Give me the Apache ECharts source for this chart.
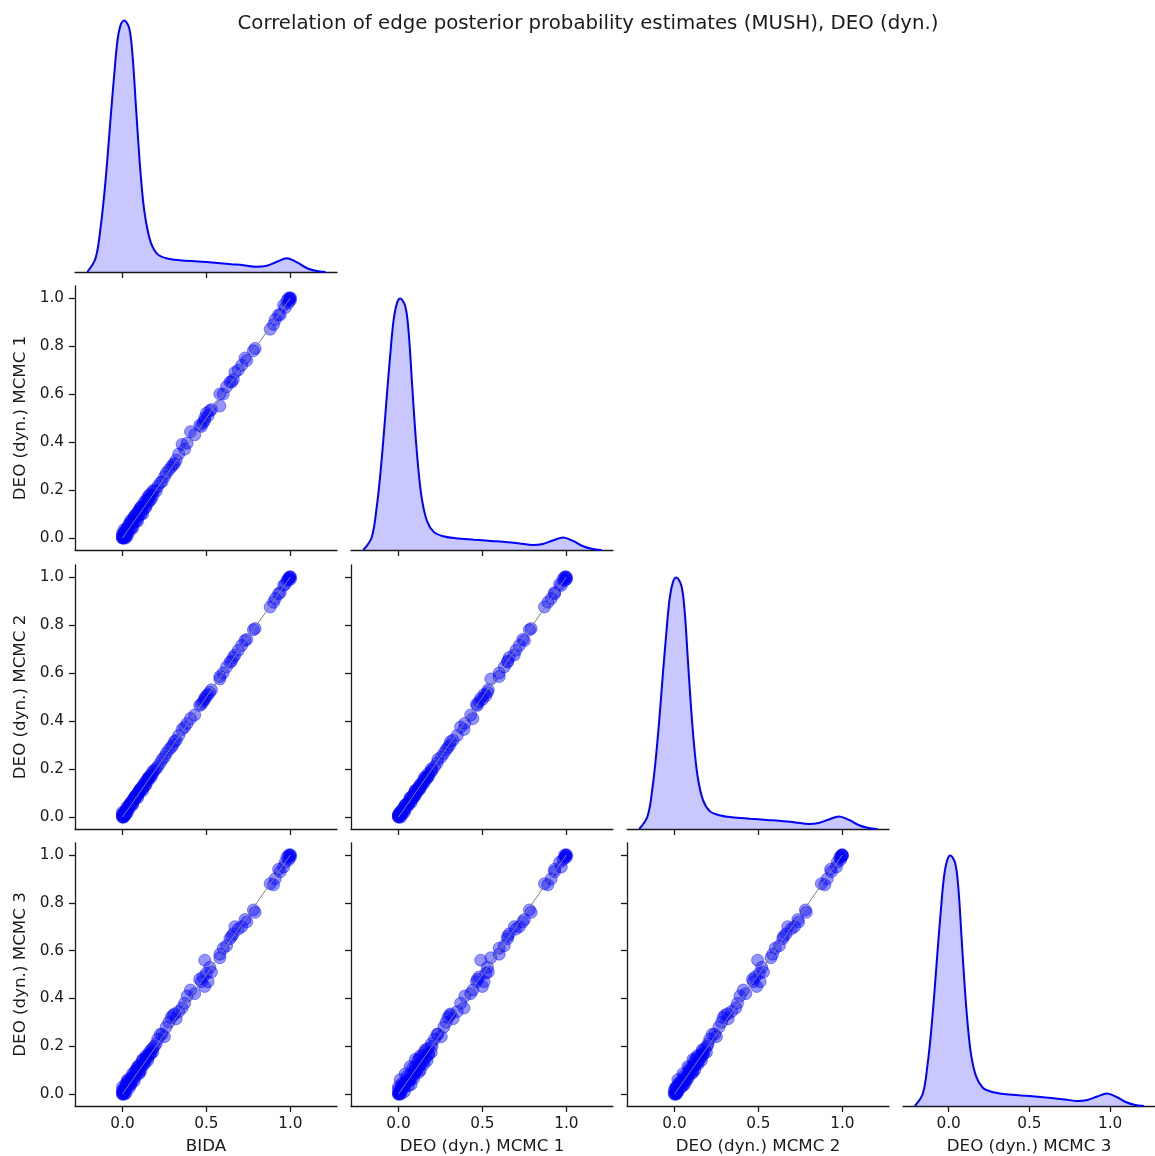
<!DOCTYPE html>
<html><head><meta charset="utf-8">
<script src="https://cdn.jsdelivr.net/npm/echarts@6/dist/echarts.min.js"></script>
<style>html,body{margin:0;padding:0;background:#fff}#c{width:1155px;height:1156px}</style>
</head><body><div id="c"></div>
<script>
// ---------------- data ----------------
const titleText = 'Correlation of edge posterior probability estimates (MUSH), DEO (dyn.)';
const variables = ['BIDA', 'DEO (dyn.) MCMC 1', 'DEO (dyn.) MCMC 2', 'DEO (dyn.) MCMC 3'];

const bida  = [0,0,0,0.005,0.01,0,0.015,0.02,0.02,0.025,0.03,0.035,0.04,0.045,0.05,0.055,0.06,0.065,0.07,0.075,0.08,0.085,0.09,0.095,0.1,0.105,0.11,0.115,0.12,0.13,0.135,0.14,0.15,0.155,0.16,0.17,0.18,0.19,0.2,0.025,0.01,
  0.21,0.225,0.236,0.25,0.26,0.276,0.29,0.3,0.31,0.32,0.335,0.355,0.37,0.385,0.405,0.43,0.46,0.47,0.48,0.49,0.49,0.5,0.51,0.52,0.53,0.58,0.58,0.6,0.62,0.64,0.65,0.66,0.67,0.69,0.71,0.73,0.74,0.79,0.78,0.88,0.9,0.91,0.93,0.94,0.96,0.97,0.98,0.99,1,1,0.99,1,0.995,
  0,0.01,0.03,0.04,0.05,0.06,0.07,0.08,0.09,0.1,0.11,0.12,0.13,0.14,0.15,0.16,0.17,0.18,0.02,0.005];
const mcmc1 = [0,0.005,0,0,0.02,0.01,0.005,0.03,0.01,0.035,0.02,0.05,0.03,0.06,0.04,0.07,0.05,0.08,0.065,0.09,0.07,0.1,0.085,0.11,0.095,0.12,0.1,0.13,0.115,0.14,0.125,0.155,0.145,0.165,0.155,0.18,0.175,0.2,0.195,0.04,0,
  0.215,0.23,0.235,0.255,0.27,0.283,0.295,0.305,0.31,0.325,0.35,0.39,0.37,0.395,0.443,0.43,0.47,0.465,0.48,0.5,0.49,0.52,0.51,0.53,0.535,0.55,0.6,0.6,0.63,0.65,0.65,0.66,0.69,0.7,0.72,0.75,0.74,0.79,0.78,0.87,0.89,0.91,0.93,0.93,0.97,0.96,0.99,0.98,1,0.99,1,1,0.995,
  0.02,0.035,0.01,0.06,0.075,0.04,0.09,0.1,0.07,0.12,0.13,0.1,0.15,0.13,0.17,0.18,0.16,0.195,0,0.015];
const mcmc2 = [0,0,0.01,0.005,0.015,0.02,0.01,0.025,0.015,0.04,0.03,0.045,0.035,0.055,0.05,0.065,0.055,0.075,0.07,0.085,0.08,0.095,0.09,0.105,0.1,0.115,0.11,0.125,0.12,0.135,0.13,0.15,0.15,0.16,0.165,0.175,0.18,0.195,0.2,0.03,0,
  0.21,0.225,0.24,0.25,0.265,0.28,0.29,0.3,0.315,0.32,0.34,0.365,0.375,0.39,0.41,0.425,0.465,0.47,0.48,0.49,0.495,0.505,0.51,0.52,0.53,0.575,0.585,0.6,0.625,0.645,0.65,0.665,0.675,0.695,0.715,0.735,0.74,0.785,0.78,0.875,0.895,0.91,0.93,0.935,0.965,0.97,0.985,0.99,1,1,0.995,0.99,1,
  0.01,0.02,0.02,0.05,0.06,0.05,0.08,0.09,0.08,0.11,0.12,0.11,0.14,0.135,0.16,0.17,0.165,0.19,0.01,0];
const mcmc3 = [0,0.01,0,0.005,0.025,0.015,0,0.04,0.005,0.03,0.045,0.05,0.025,0.065,0.045,0.06,0.075,0.07,0.055,0.095,0.08,0.09,0.11,0.1,0.085,0.125,0.115,0.12,0.14,0.13,0.15,0.145,0.16,0.155,0.175,0.17,0.19,0.2,0.21,0.05,0.02,
  0.23,0.25,0.25,0.24,0.28,0.3,0.32,0.33,0.335,0.315,0.345,0.36,0.38,0.41,0.435,0.42,0.48,0.47,0.49,0.45,0.56,0.505,0.47,0.53,0.51,0.57,0.585,0.61,0.62,0.65,0.66,0.67,0.70,0.69,0.70,0.73,0.72,0.76,0.77,0.88,0.875,0.9,0.94,0.93,0.95,0.97,0.99,0.98,1,1,1,0.99,0.995,
  0.03,0.01,0.06,0.035,0.04,0.085,0.065,0.1,0.115,0.09,0.1,0.145,0.125,0.16,0.14,0.165,0.185,0.175,0.03,0];

// kernel density curves (relative height)
const kdeX    = [-0.21,-0.16,-0.13,-0.11,-0.09,-0.07,-0.05,-0.03,-0.01,0.01,0.04,0.06,0.08,0.10,0.12,0.14,0.17,0.21,0.26,0.34,0.45,0.55,0.65,0.72,0.8,0.86,0.92,0.98,1.04,1.1,1.15,1.21];
const kdeBida = [0,0.056,0.18,0.30,0.45,0.62,0.78,0.92,0.985,1.0,0.97,0.86,0.66,0.46,0.30,0.20,0.115,0.07,0.055,0.047,0.042,0.037,0.031,0.027,0.021,0.025,0.041,0.055,0.038,0.015,0.005,0];
const kdeM1   = [0,0.05,0.17,0.29,0.44,0.61,0.77,0.91,0.98,1.0,0.97,0.87,0.67,0.47,0.31,0.20,0.115,0.072,0.056,0.047,0.041,0.036,0.031,0.026,0.02,0.024,0.038,0.05,0.036,0.015,0.005,0];
const kdeM2   = [0,0.052,0.17,0.29,0.44,0.61,0.77,0.91,0.98,1.0,0.97,0.87,0.67,0.47,0.31,0.20,0.115,0.071,0.056,0.047,0.041,0.036,0.031,0.026,0.02,0.024,0.038,0.05,0.036,0.015,0.005,0];
const kdeM3   = [0,0.05,0.17,0.29,0.44,0.61,0.77,0.91,0.98,1.0,0.97,0.87,0.67,0.47,0.31,0.20,0.118,0.074,0.058,0.048,0.042,0.037,0.031,0.026,0.02,0.024,0.038,0.05,0.036,0.015,0.005,0];

const xTicks = [0, 0.5, 1.0];
const yTicks = [0, 0.2, 0.4, 0.6, 0.8, 1.0];
const refLine = [[0, 0], [1, 1]];

// ---------------- layout ----------------
const values = [bida, mcmc1, mcmc2, mcmc3];
const kdes = [kdeBida, kdeM1, kdeM2, kdeM3];
const X_MIN = -0.283, X_MAX = 1.278, Y_MIN = -0.05, Y_MAX = 1.05;
const colLeft = [75, 351, 627, 903];
const rowTop = [8, 286, 565, 843];
const W = 262, H = 264;
const FONT = 'DejaVu Sans';
const INK = '#1a1a1a';
const BLUE = '#0000ff';

const grids = [], xAxes = [], yAxes = [], series = [];
let g = 0;
for (let r = 0; r < 4; r++) {
  for (let c = 0; c <= r; c++) {
    grids.push({left: colLeft[c], top: rowTop[r], width: W, height: H, containLabel: false});
    const bottomRow = r === 3;
    xAxes.push({
      gridIndex: g, type: 'value', min: X_MIN, max: X_MAX,
      axisLine: {show: true, onZero: false, lineStyle: {color: INK, width: 1.3}},
      axisTick: {show: true, length: 6, customValues: xTicks, lineStyle: {color: INK, width: 1.3}},
      axisLabel: {show: bottomRow, customValues: xTicks, formatter: v => v.toFixed(1), margin: 11,
                  fontFamily: FONT, fontSize: 15.3, color: INK},
      splitLine: {show: false},
      name: bottomRow ? variables[c] : '', nameLocation: 'middle', nameGap: 32,
      nameTextStyle: {fontFamily: FONT, fontSize: 16.7, color: INK}
    });
    if (r === c) {
      const k = kdes[c];
      yAxes.push({gridIndex: g, type: 'value', show: false, min: 0, max: Math.max(...k) * 1.05});
      series.push({
        type: 'line', xAxisIndex: g, yAxisIndex: g, showSymbol: false, smooth: 0.35,
        data: kdeX.map((x, i) => [x, k[i]]),
        lineStyle: {color: BLUE, width: 2},
        areaStyle: {color: 'rgba(0,0,255,0.31)'},
        silent: true, z: 2
      });
    } else {
      const leftCol = c === 0;
      yAxes.push({
        gridIndex: g, type: 'value', min: Y_MIN, max: Y_MAX,
        axisLine: {show: true, onZero: false, lineStyle: {color: INK, width: 1.3}},
        axisTick: {show: true, length: 6, customValues: yTicks, lineStyle: {color: INK, width: 1.3}},
        axisLabel: {show: leftCol, customValues: yTicks, formatter: v => v.toFixed(1), margin: 11,
                    fontFamily: FONT, fontSize: 15.3, color: INK},
        splitLine: {show: false},
        name: leftCol ? variables[r] : '', nameLocation: 'middle', nameGap: 46, nameRotate: 90,
        nameTextStyle: {fontFamily: FONT, fontSize: 16.7, color: INK}
      });
      const xs = values[c], ys = values[r];
      series.push({
        type: 'scatter', xAxisIndex: g, yAxisIndex: g,
        data: xs.map((x, i) => [x, ys[i]]),
        symbolSize: 12,
        itemStyle: {color: BLUE, opacity: 0.42, borderColor: BLUE, borderWidth: 1},
        silent: true, z: 2
      });
      series.push({
        type: 'line', xAxisIndex: g, yAxisIndex: g, showSymbol: false,
        data: refLine, lineStyle: {color: '#808080', width: 1}, silent: true, z: 3
      });
    }
    g++;
  }
}

const chart = echarts.init(document.getElementById('c'), null, {renderer: 'canvas'});
chart.setOption({
  animation: false,
  backgroundColor: '#fff',
  title: {text: titleText, left: 583, top: 9, textAlign: 'center',
          textStyle: {fontFamily: FONT, fontSize: 19.75, fontWeight: 'normal', color: INK}},
  grid: grids, xAxis: xAxes, yAxis: yAxes, series: series
});
</script></body></html>
